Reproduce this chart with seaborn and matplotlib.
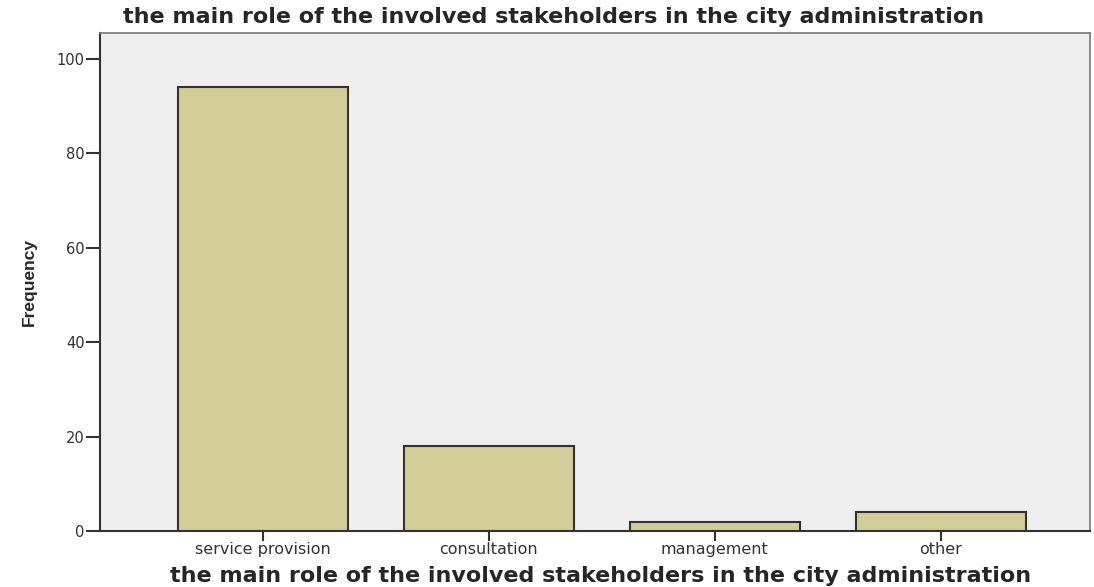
import matplotlib
matplotlib.use('Agg')
import matplotlib.pyplot as plt
import seaborn as sns
import pandas as pd

# 数据
categories = ['service provision', 'consultation', 'management', 'other']
frequency = [94, 18, 2, 4]
yticks = [0, 20, 40, 60, 80, 100]
title = 'the main role of the involved stakeholders in the city administration'

df = pd.DataFrame({'role': categories, 'freq': frequency})

sns.set_style('ticks', {'axes.facecolor': '#EFEFEF'})
plt.rcParams['font.family'] = ['DejaVu Sans']

fig = plt.figure(figsize=(10.94, 5.87), dpi=100)
ax = fig.add_axes([100 / 1094, 56 / 587, 990 / 1094, 498 / 587])

sns.barplot(data=df, x='role', y='freq', color='#D3CE97', saturation=1,
            width=0.75, edgecolor='#333333', linewidth=1.5, ax=ax)

ax.set_xlim(-0.72, 3.66)
ax.set_ylim(0, 105.5)
ax.set_yticks(yticks)
ax.tick_params(axis='y', length=10, width=1.5, color='#333333', labelsize=10.5,
               labelcolor='#333333', pad=1)
ax.tick_params(axis='x', length=7, width=1.5, color='#333333', labelsize=11.5,
               labelcolor='#333333', pad=1)

for side in ['left', 'bottom']:
    ax.spines[side].set_color('#333333')
    ax.spines[side].set_linewidth(1.5)
for side in ['top', 'right']:
    ax.spines[side].set_visible(True)
    ax.spines[side].set_color('#777777')
    ax.spines[side].set_linewidth(1.2)

ax.set_xlabel('')
ax.set_ylabel('Frequency', fontsize=12.5, fontweight='bold', labelpad=14,
              family=['Liberation Sans'])

fig.text(554 / 1094, 1 - 17 / 587, title, fontsize=16, fontweight='bold',
         ha='center', va='center')
fig.text(601 / 1094, 1 - 576 / 587, title, fontsize=16, fontweight='bold',
         ha='center', va='center')

fig.savefig('out.png', dpi=100)
